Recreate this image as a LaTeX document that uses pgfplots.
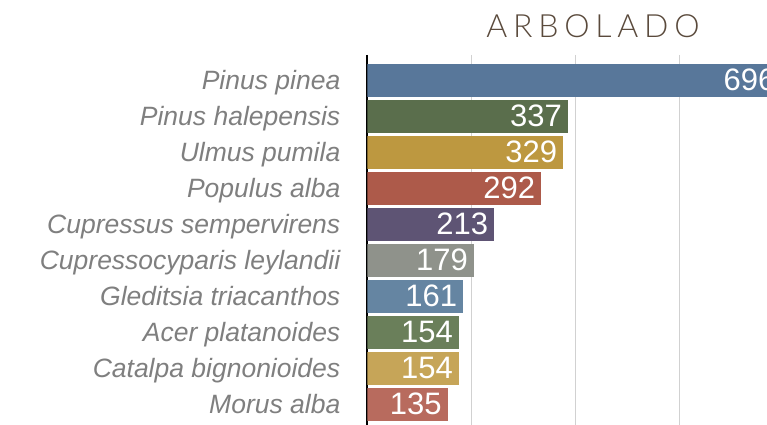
\documentclass[border=0pt]{standalone}
\usepackage{fontspec}
\setmainfont{Liberation Sans}
\newfontfamily\titlefont{Lato}[UprightFont=* Light]
\usepackage{pgfplots}
\pgfplotsset{compat=1.18}
\definecolor{c1}{HTML}{58779A}
\definecolor{c2}{HTML}{5A6E4C}
\definecolor{c3}{HTML}{BD9840}
\definecolor{c4}{HTML}{AD5A4A}
\definecolor{c5}{HTML}{5E5474}
\definecolor{c6}{HTML}{8F928B}
\definecolor{c7}{HTML}{6585A2}
\definecolor{c8}{HTML}{6A7F5A}
\definecolor{c9}{HTML}{C6A558}
\definecolor{c10}{HTML}{B86B5E}
\definecolor{lbl}{HTML}{7F7F7F}
\definecolor{ttl}{HTML}{5A4A3C}
\begin{document}
\begin{tikzpicture}
\begin{axis}[
  at={(0,0)}, anchor=south west,
  scale only axis,
  width=416.5pt, height=370.8pt,
  xbar, bar width=33pt, bar shift=0pt,
  xmin=0, xmax=700,
  ymin=-0.7, ymax=9.6,
  y dir=reverse,
  axis lines*=left,
  y axis line style={black, line width=2pt},
  x axis line style={draw=none},
  xtick={175,350,525}, xticklabels={},
  xmajorgrids, grid style={color=black!18, line width=1pt},
  major tick length=0pt,
  ytick={0,...,9},
  yticklabels={Pinus pinea, Pinus halepensis, Ulmus pumila, Populus alba, Cupressus sempervirens, Cupressocyparis leylandii, Gleditsia triacanthos, Acer platanoides, Catalpa bignonioides, Morus alba},
  yticklabel style={anchor=base east, yshift=-9.5pt, xshift=-27pt, text=lbl, font=\fontsize{26.5}{30}\selectfont\itshape, inner sep=0pt},
  nodes near coords,
  every node near coord/.style={anchor=east, xshift=-6pt, inner sep=0pt, text=white, font=\fontsize{31}{34}\selectfont},
  point meta=x,
  nodes near coords={\pgfmathprintnumber{\pgfplotspointmeta}},
  /pgf/number format/assume math mode=true,
  clip=true,
]
\addplot[fill=c1, draw=none] coordinates {(696,0)};
\addplot[fill=c2, draw=none] coordinates {(337,1)};
\addplot[fill=c3, draw=none] coordinates {(329,2)};
\addplot[fill=c4, draw=none] coordinates {(292,3)};
\addplot[fill=c5, draw=none] coordinates {(213,4)};
\addplot[fill=c6, draw=none] coordinates {(179,5)};
\addplot[fill=c7, draw=none] coordinates {(161,6)};
\addplot[fill=c8, draw=none] coordinates {(154,7)};
\addplot[fill=c9, draw=none] coordinates {(154,8)};
\addplot[fill=c10, draw=none] coordinates {(135,9)};
\end{axis}
\node[anchor=base, text=ttl, inner sep=0pt] at (225.5pt,387.6pt) {\titlefont\addfontfeatures{LetterSpace=18}\fontsize{32}{36}\selectfont ARBOLADO};
\pgfresetboundingbox
\useasboundingbox (-367.5pt,1.6pt) rectangle (399.5pt,425.6pt);
\end{tikzpicture}
\end{document}
